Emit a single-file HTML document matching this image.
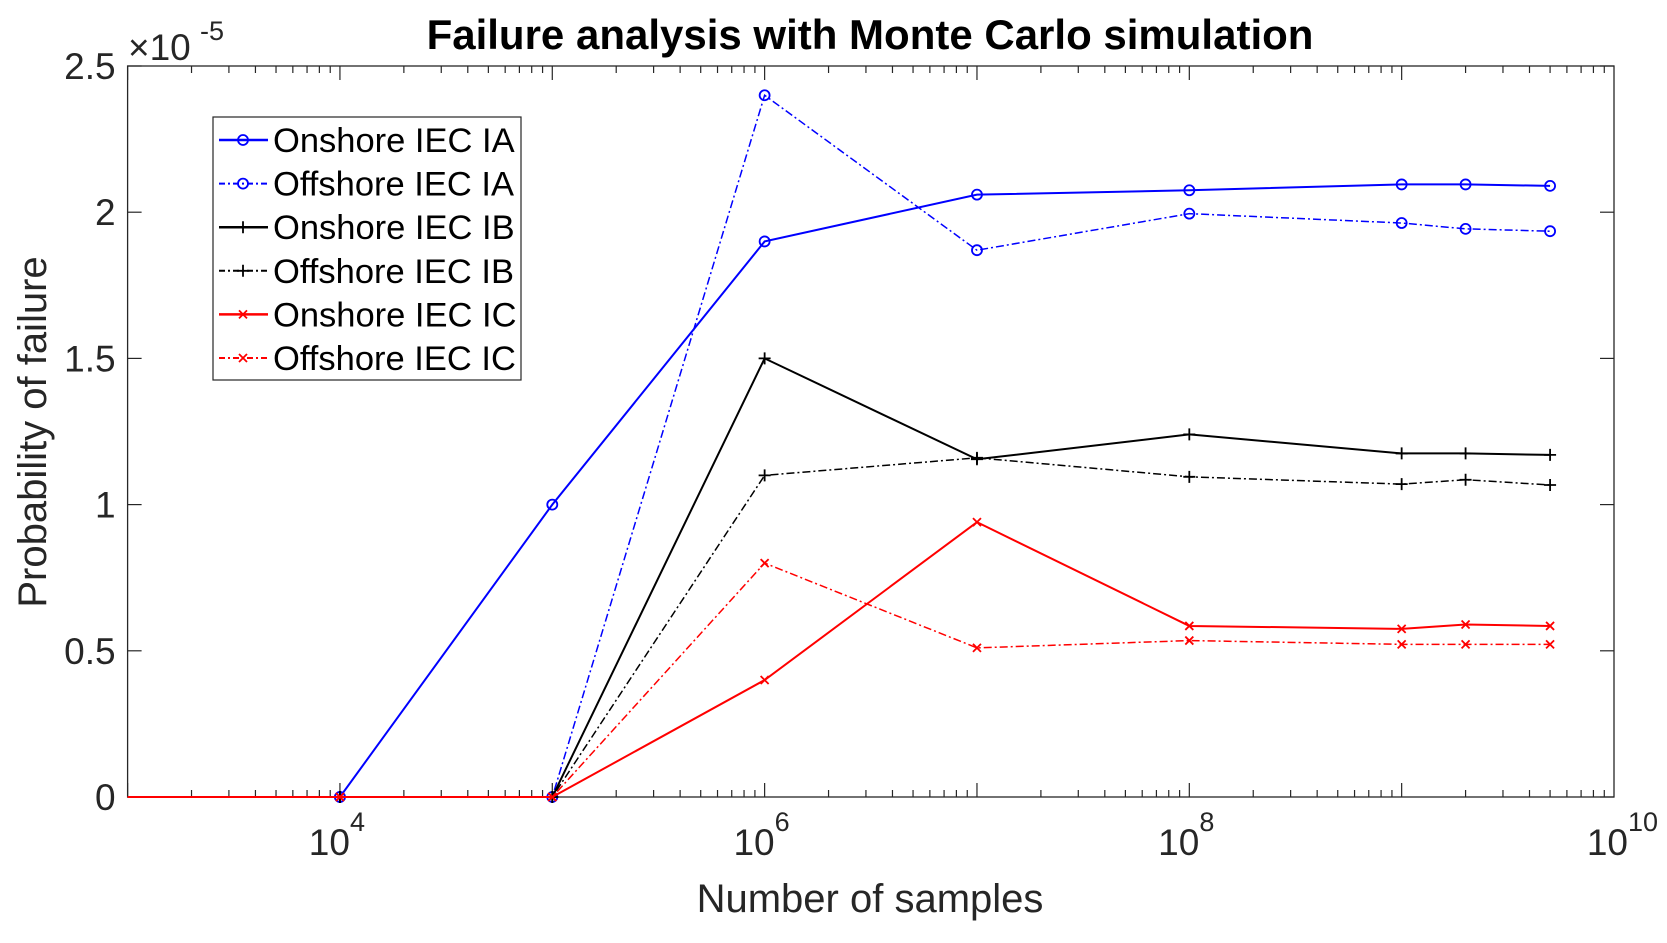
<!DOCTYPE html>
<html><head><meta charset="utf-8"><style>
body{margin:0;background:#fff}
svg text{font-family:"Liberation Sans",sans-serif;fill:#262626}
</style></head><body>
<svg id="chart" width="1667" height="938" viewBox="0 0 1667 938" xmlns="http://www.w3.org/2000/svg">
<g id="axes"></g><g id="series"></g><g id="legend"></g>
</svg>
<script>
const xValues=[1e3,1e4,1e5,1e6,1e7,1e8,1e9,2e9,5e9];
const onshoreIA=[0,0,1.0,1.9,2.06,2.075,2.095,2.095,2.09];
const offshoreIA=[0,0,0,2.4,1.87,1.995,1.963,1.943,1.935];
const onshoreIB=[0,0,0,1.5,1.155,1.24,1.175,1.175,1.17];
const offshoreIB=[0,0,0,1.1,1.16,1.095,1.07,1.085,1.067];
const onshoreIC=[0,0,0,0.4,0.94,0.585,0.575,0.59,0.585];
const offshoreIC=[0,0,0,0.8,0.51,0.535,0.522,0.522,0.522];
const yTicks=[0,0.5,1,1.5,2,2.5];
const yTickLabels=["0","0.5","1","1.5","2","2.5"];
const xDecades=[4,6,8,10];

const L=127.6,R=1614,T=66,B=797,NS="http://www.w3.org/2000/svg";
const X=v=>L+(Math.log10(v)-3)*(R-L)/7;
const Y=v=>B-v*(B-T)/2.5;
function mk(tag,at,parent){const e=document.createElementNS(NS,tag);for(const k in at)e.setAttribute(k,at[k]);parent.appendChild(e);return e;}
const ax=document.getElementById('axes'),sg=document.getElementById('series'),lg=document.getElementById('legend');
const frame=mk('rect',{x:L,y:T,width:R-L,height:B-T,fill:'none',stroke:'#262626','stroke-width':1.3},ax);


for(let d=3;d<10;d++){for(let m=1;m<10;m++){const x=X(m*Math.pow(10,d));const len=m==1?14:7;
 mk('line',{x1:x,y1:B,x2:x,y2:B-len,stroke:'#262626','stroke-width':1.2},ax);
 mk('line',{x1:x,y1:T,x2:x,y2:T+len,stroke:'#262626','stroke-width':1.2},ax);}}
xDecades.forEach(d=>{const x=X(Math.pow(10,d));
 const t=mk('text',{x:x+(d>=10?14:10),y:B+58,'font-size':37,'text-anchor':'end'},ax);t.textContent='10';
 
 
 const s=mk('text',{x:x+(d>=10?14:10),y:B+34,'font-size':27},ax);s.textContent=String(d);});
yTicks.forEach((v,i)=>{const y=Y(v);
 mk('line',{x1:L,y1:y,x2:L+14,y2:y,stroke:'#262626','stroke-width':1.2},ax);
 mk('line',{x1:R,y1:y,x2:R-14,y2:y,stroke:'#262626','stroke-width':1.2},ax);
 const t=mk('text',{x:L-12,y:y+13,'font-size':37,'text-anchor':'end'},ax);t.textContent=yTickLabels[i];
 
 });
const ex=mk('text',{x:128,y:60,'font-size':37},ax);ex.textContent='\u00d710';


const ex2=mk('text',{x:200,y:40,'font-size':27},ax);ex2.textContent='-5';
const title=mk('text',{x:870,y:49,'font-size':42,'font-weight':'bold','text-anchor':'middle',style:'fill:#000'},ax);title.textContent='Failure analysis with Monte Carlo simulation';


const xl=mk('text',{x:870,y:912,'font-size':40,'text-anchor':'middle'},ax);xl.textContent='Number of samples';


const yl=mk('text',{x:0,y:0,'font-size':40,'text-anchor':'middle',transform:'translate(46,432) rotate(-90)'},ax);yl.textContent='Probability of failure';



const series=[
 {name:'Onshore IEC IA',data:onshoreIA,c:'#0000ff',dash:'',m:'o',w:2},
 {name:'Offshore IEC IA',data:offshoreIA,c:'#0000ff',dash:'8 3 2 3',m:'o',w:1.5},
 {name:'Onshore IEC IB',data:onshoreIB,c:'#000',dash:'',m:'+',w:2},
 {name:'Offshore IEC IB',data:offshoreIB,c:'#000',dash:'8 3 2 3',m:'+',w:1.5},
 {name:'Onshore IEC IC',data:onshoreIC,c:'#ff0000',dash:'',m:'x',w:2},
 {name:'Offshore IEC IC',data:offshoreIC,c:'#ff0000',dash:'8 3 2 3',m:'x',w:1.5}];
function marker(type,x,y,c,g){
 if(type=='o')return mk('circle',{cx:x,cy:y,r:5,fill:'none',stroke:c,'stroke-width':1.8},g);
 if(type=='+')return mk('path',{d:`M${x-6},${y}H${x+6}M${x},${y-6}V${y+6}`,stroke:c,'stroke-width':1.8},g);
 return mk('path',{d:`M${x-4},${y-4}L${x+4},${y+4}M${x-4},${y+4}L${x+4},${y-4}`,stroke:c,'stroke-width':1.8},g);}
series.forEach((s,si)=>{const g=mk('g',{},sg);
 
 
 const pts=s.data.map((v,i)=>X(xValues[i])+','+Y(v)).join(' ');
 mk('polyline',{points:pts,fill:'none',stroke:s.c,'stroke-width':s.w,'stroke-dasharray':s.dash},g);
 s.data.forEach((v,i)=>{if(i>0)marker(s.m,X(xValues[i]),Y(v),s.c,g);});
 const ly=140+si*43.6;
 const le=mk('g',{},lg);
 
 
 mk('line',{x1:219,y1:ly,x2:268,y2:ly,stroke:s.c,'stroke-width':s.w+0.5,'stroke-dasharray':s.dash?'6 3 2 3':''},le);
 marker(s.m,243,ly,s.c,le);
 const t=mk('text',{x:273,y:ly+12,'font-size':34.5,style:'fill:#000'},le);t.textContent=s.name;});
const box=mk('rect',{x:213,y:117,width:308,height:263,fill:'none',stroke:'#262626','stroke-width':1.2},lg);


</script>
</body></html>
